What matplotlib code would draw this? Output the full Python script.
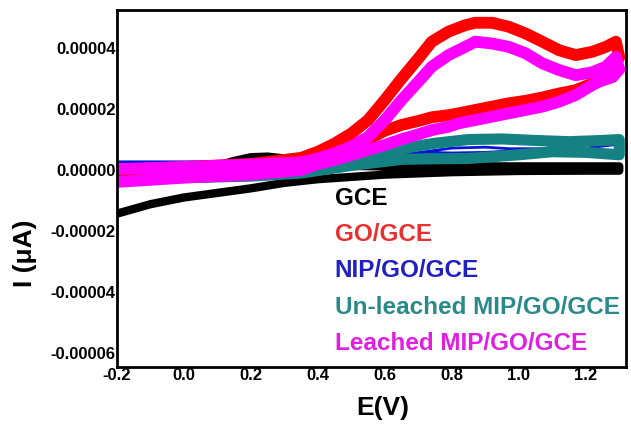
import matplotlib
matplotlib.use("Agg")
import matplotlib.pyplot as plt
from matplotlib.ticker import FormatStrFormatter

SCALE = 1e-5

# GCE (black): anodic sweep then cathodic sweep
gce_E = [-0.2, 0.0, 0.1, 0.15, 0.2, 0.25, 0.3, 0.35, 0.4, 0.6, 0.8, 1.0, 1.2, 1.3,
         1.3, 1.2, 1.0, 0.8, 0.6, 0.4, 0.3, 0.2, 0.1, 0.0, -0.1, -0.2]
gce_I = [0.0, 0.08, 0.14, 0.3, 0.42, 0.44, 0.38, 0.28, 0.15, 0.12, 0.12, 0.12, 0.12, 0.12,
         -0.02, -0.02, -0.03, -0.07, -0.15, -0.3, -0.42, -0.6, -0.75, -0.9, -1.12, -1.43]

# GO/GCE (red)
go_E = [-0.2, 0.0, 0.2, 0.35, 0.4, 0.45, 0.5, 0.55, 0.6, 0.65, 0.7, 0.74, 0.79, 0.84,
        0.87, 0.92, 0.97, 1.02, 1.07, 1.12, 1.17, 1.22, 1.26, 1.29, 1.3, 1.28,
        1.25, 1.22, 1.17, 1.12, 1.07, 1.02, 0.97, 0.92, 0.87, 0.82, 0.79, 0.74, 0.7,
        0.65, 0.6, 0.565, 0.5, 0.45, 0.35, 0.2, 0.0, -0.2]
go_I = [0.0, 0.1, 0.2, 0.4, 0.6, 0.87, 1.2, 1.64, 2.3, 3.0, 3.66, 4.21, 4.54, 4.75,
        4.83, 4.83, 4.7, 4.48, 4.21, 3.93, 3.77, 3.88, 4.04, 4.21, 3.7, 3.3,
        3.06, 2.84, 2.62, 2.51, 2.38, 2.27, 2.19, 2.08, 1.97, 1.86, 1.8, 1.73, 1.61,
        1.48, 1.29, 1.09, 0.75, 0.5, 0.1, -0.1, -0.2, -0.35]

# NIP/GO/GCE (blue)
nip_E = [-0.2, 0.2, 0.4, 0.6, 0.72, 0.8, 0.9, 0.97, 1.1, 1.2, 1.3,
         1.3, 1.2, 1.1, 0.97, 0.9, 0.8, 0.72, 0.6, 0.4, 0.0, -0.2]
nip_I = [0.27, 0.27, 0.3, 0.45, 0.6, 0.72, 0.75, 0.7, 0.7, 0.72, 0.85,
         0.4, 0.5, 0.55, 0.62, 0.58, 0.56, 0.58, 0.4, 0.1, -0.1, -0.15]

# Un-leached MIP/GO/GCE (teal)
unl_E = [-0.2, 0.0, 0.2, 0.35, 0.5, 0.65, 0.75, 0.85, 0.95, 1.05, 1.15, 1.25, 1.3,
         1.3, 1.2, 1.1, 1.0, 0.85, 0.75, 0.65, 0.5, 0.35, 0.2, 0.0, -0.2]
unl_I = [-0.1, -0.05, 0.0, 0.1, 0.4, 0.7, 0.88, 1.0, 1.02, 0.97, 0.93, 0.97, 1.0,
         0.5, 0.58, 0.6, 0.5, 0.38, 0.37, 0.35, 0.15, -0.1, -0.2, -0.25, -0.3]

# Leached MIP/GO/GCE (magenta)
lea_E = [-0.2, 0.0, 0.2, 0.35, 0.4, 0.45, 0.5, 0.55, 0.6, 0.65, 0.7, 0.74, 0.79, 0.84,
         0.87, 0.92, 0.97, 1.02, 1.07, 1.12, 1.17, 1.22, 1.26, 1.29, 1.3, 1.28,
         1.24, 1.22, 1.17, 1.12, 1.07, 1.02, 0.97, 0.92, 0.87, 0.82, 0.79, 0.74, 0.7,
         0.65, 0.6, 0.55, 0.5, 0.45, 0.4, 0.35, 0.2, 0.0, -0.2]
lea_I = [0.03, 0.1, 0.18, 0.25, 0.38, 0.55, 0.77, 1.09, 1.64, 2.3, 2.9, 3.39, 3.77, 4.04,
         4.21, 4.15, 4.04, 3.83, 3.5, 3.28, 3.11, 3.21, 3.39, 3.71, 3.3, 3.05,
         2.9, 2.79, 2.46, 2.24, 2.08, 1.97, 1.86, 1.75, 1.64, 1.53, 1.42, 1.31, 1.17,
         1.01, 0.82, 0.66, 0.49, 0.33, 0.2, 0.0, -0.15, -0.25, -0.39]

y_ticks = [-0.00006, -0.00004, -0.00002, 0.0, 0.00002, 0.00004]
x_ticks = [-0.2, 0.0, 0.2, 0.4, 0.6, 0.8, 1.0, 1.2]


def main():
    plt.rcParams['font.family'] = ['Liberation Sans', 'DejaVu Sans']
    plt.rcParams['font.weight'] = 'bold'

    fig = plt.figure(figsize=(6.31, 4.33), dpi=100)
    ax = fig.add_axes([0.1854, 0.1524, 0.8066, 0.8246])

    # drawing order: later curves sit on top
    series = [
        (gce_E, gce_I, 'black', 'black', 'GCE', 6.0),
        (nip_E, nip_I, '#0a14d8', '#2020c0', 'NIP/GO/GCE', 2.0),
        (unl_E, unl_I, '#148282', '#2a8a8a', 'Un-leached MIP/GO/GCE', 8.0),
        (go_E, go_I, '#ff0000', '#e83030', 'GO/GCE', 8.5),
        (lea_E, lea_I, '#ff00ff', '#e020e0', 'Leached MIP/GO/GCE', 8.5),
    ]
    for E, I, col, tcol, name, lw in series:
        ax.plot(E, [v * SCALE for v in I], color=col, lw=lw,
                solid_joinstyle='round', solid_capstyle='round')

    # text-only legend, in the reference order
    order = ['GCE', 'GO/GCE', 'NIP/GO/GCE', 'Un-leached MIP/GO/GCE', 'Leached MIP/GO/GCE']
    colors = {s[4]: s[3] for s in series}
    handles = [plt.Line2D([], [], color=colors[n], lw=0) for n in order]
    leg = ax.legend(handles, order, loc='upper left', bbox_to_anchor=(0.428, 0.505),
                    frameon=False, handlelength=0, handletextpad=0, borderpad=0,
                    borderaxespad=0, labelspacing=0.55,
                    prop={'size': 17.5, 'weight': 'bold'})
    for txt, n in zip(leg.get_texts(), order):
        txt.set_color(colors[n])

    ax.set_xlim(-0.2, 1.32)
    ax.set_ylim(-0.0000646, 0.0000525)
    ax.set_xticks(x_ticks)
    ax.set_yticks(y_ticks)
    ax.yaxis.set_major_formatter(FormatStrFormatter('%.5f'))
    ax.xaxis.set_major_formatter(FormatStrFormatter('%.1f'))
    ax.tick_params(length=0, labelsize=12, pad=1)
    for sp in ax.spines.values():
        sp.set_linewidth(2)

    ax.set_xlabel('E(V)', fontsize=19, fontweight='bold')
    ax.xaxis.set_label_coords(0.523, -0.08)
    ax.set_ylabel('I (μA)', fontsize=19, fontweight='bold')
    ax.yaxis.set_label_coords(-0.157, 0.32)

    fig.savefig('out.png', dpi=100)


if __name__ == "__main__":
    main()
